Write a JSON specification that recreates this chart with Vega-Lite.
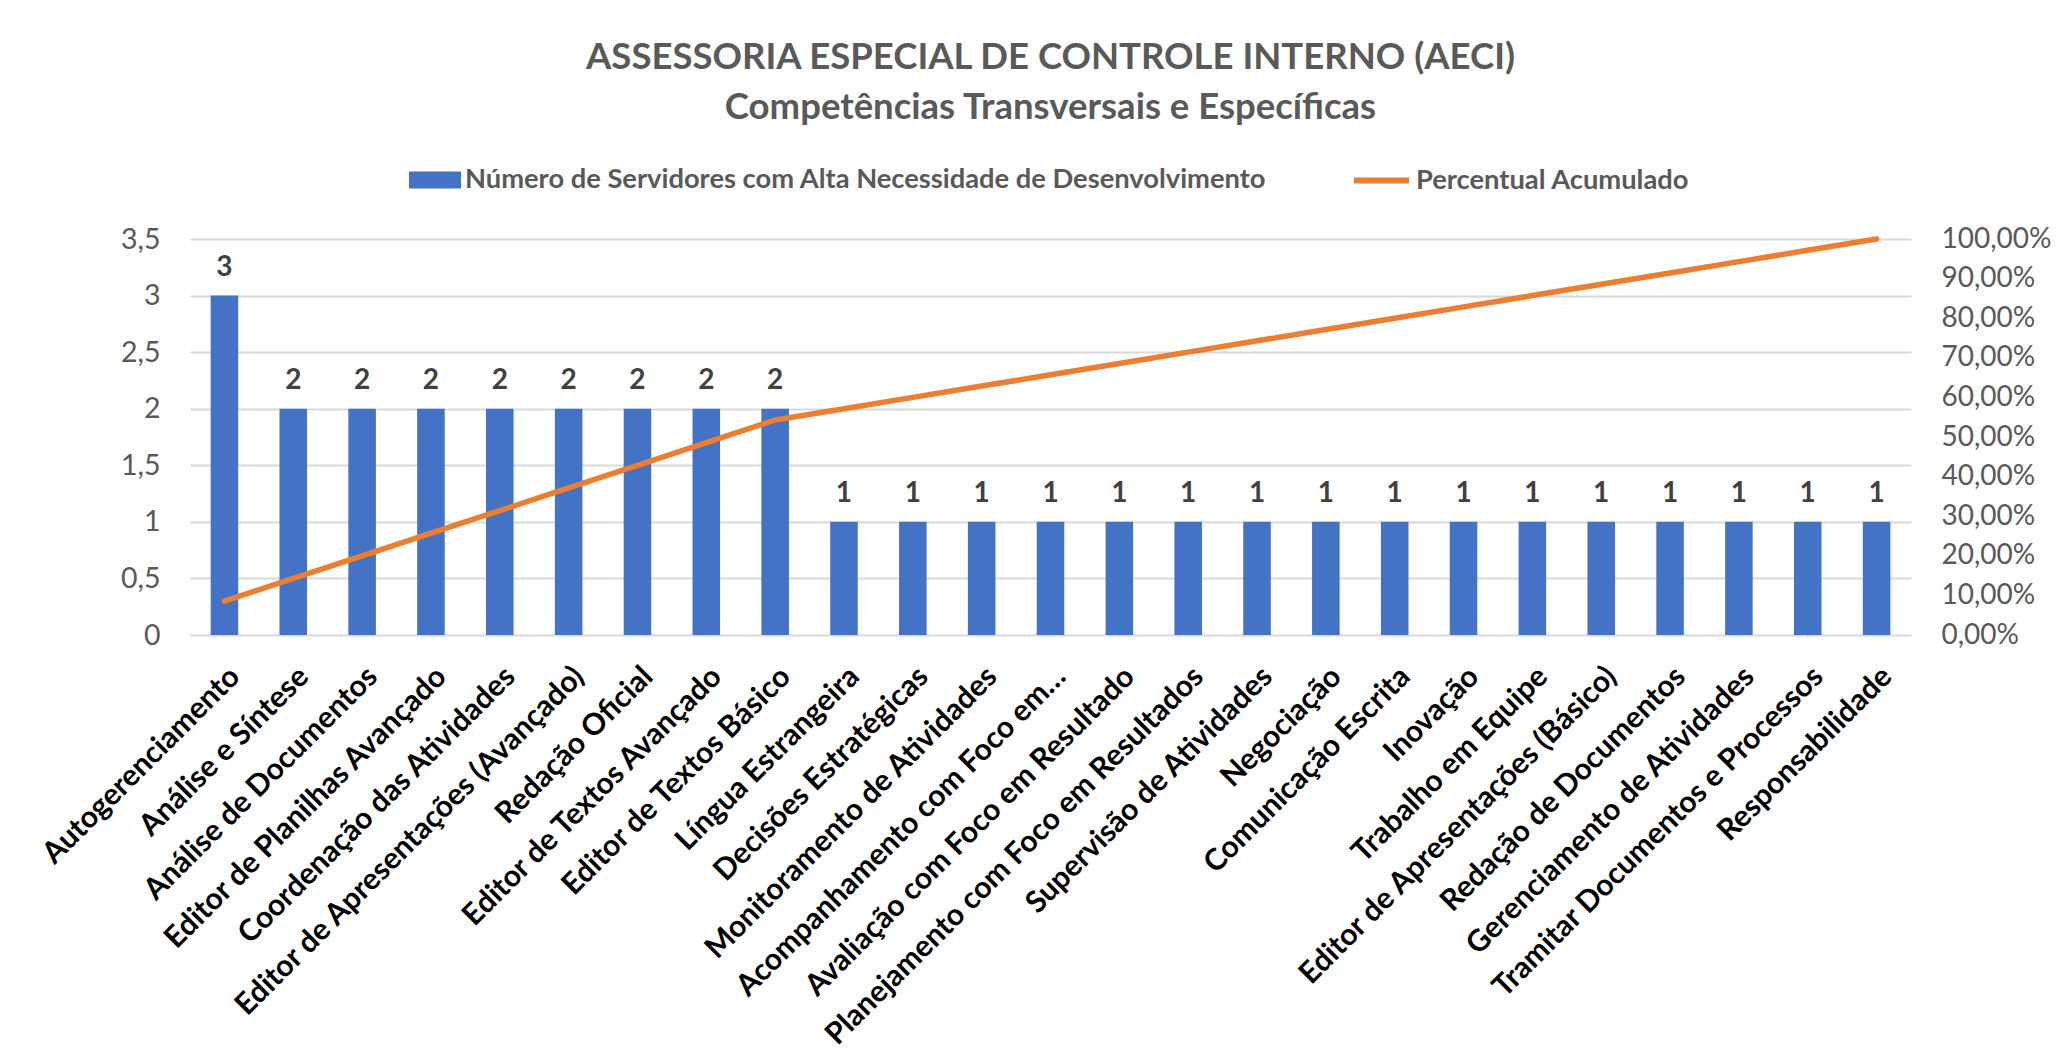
{
  "$schema": "https://vega.github.io/schema/vega-lite/v6.json",
  "autosize": {"type": "none"},
  "padding": {"left": 190, "top": 239, "right": 145, "bottom": 427},
  "width": 1721,
  "height": 396,
  "background": "white",
  "title": {
    "text": ["ASSESSORIA ESPECIAL DE CONTROLE INTERNO (AECI)", "Competências Transversais e Específicas"],
    "anchor": "middle",
    "fontSize": 36.5,
    "fontWeight": "bold",
    "color": "#595959",
    "lineHeight": 50,
    "offset": 24
  },
  "config": {
    "font": "Lato",
    "view": {"stroke": null},
    "locale": {"number": {"decimal": ",", "thousands": ".", "grouping": [3], "currency": ["R$", ""]}}
  },
  "data": {
    "values": [
      {"competencia": "Autogerenciamento", "n": 3, "acumulado": 0.0857},
      {"competencia": "Análise e Síntese", "n": 2, "acumulado": 0.1429},
      {"competencia": "Análise de Documentos", "n": 2, "acumulado": 0.2},
      {"competencia": "Editor de Planilhas Avançado", "n": 2, "acumulado": 0.2571},
      {"competencia": "Coordenação das Atividades", "n": 2, "acumulado": 0.3143},
      {"competencia": "Editor de Apresentações (Avançado)", "n": 2, "acumulado": 0.3714},
      {"competencia": "Redação Oficial", "n": 2, "acumulado": 0.4286},
      {"competencia": "Editor de Textos Avançado", "n": 2, "acumulado": 0.4857},
      {"competencia": "Editor de Textos Básico", "n": 2, "acumulado": 0.5429},
      {"competencia": "Língua Estrangeira", "n": 1, "acumulado": 0.5714},
      {"competencia": "Decisões Estratégicas", "n": 1, "acumulado": 0.6},
      {"competencia": "Monitoramento de Atividades", "n": 1, "acumulado": 0.6286},
      {"competencia": "Acompanhamento com Foco em…", "n": 1, "acumulado": 0.6571},
      {"competencia": "Avaliação com Foco em Resultado", "n": 1, "acumulado": 0.6857},
      {"competencia": "Planejamento com Foco em Resultados", "n": 1, "acumulado": 0.7143},
      {"competencia": "Supervisão de Atividades", "n": 1, "acumulado": 0.7429},
      {"competencia": "Negociação", "n": 1, "acumulado": 0.7714},
      {"competencia": "Comunicação Escrita", "n": 1, "acumulado": 0.8},
      {"competencia": "Inovação", "n": 1, "acumulado": 0.8286},
      {"competencia": "Trabalho em Equipe", "n": 1, "acumulado": 0.8571},
      {"competencia": "Editor de Apresentações (Básico)", "n": 1, "acumulado": 0.8857},
      {"competencia": "Redação de Documentos", "n": 1, "acumulado": 0.9143},
      {"competencia": "Gerenciamento de Atividades", "n": 1, "acumulado": 0.9429},
      {"competencia": "Tramitar Documentos e Processos", "n": 1, "acumulado": 0.9714},
      {"competencia": "Responsabilidade", "n": 1, "acumulado": 1.0}
    ]
  },
  "encoding": {
    "x": {
      "field": "competencia",
      "type": "nominal",
      "sort": null,
      "scale": {"paddingInner": 0.6, "paddingOuter": 0.3},
      "axis": {
        "title": null,
        "labelAngle": -45,
        "labelAlign": "right",
        "labelBaseline": "top",
        "labelFontSize": 30,
        "labelFontWeight": "bold",
        "labelColor": "#000000",
        "labelPadding": 26,
        "labelLimit": 800,
        "labelOverlap": false,
        "ticks": false,
        "domain": false,
        "grid": false
      }
    }
  },
  "layer": [
    {
      "layer": [
        {
          "mark": {"type": "bar", "color": "#4472C4"},
          "encoding": {
            "y": {
              "field": "n",
              "type": "quantitative",
              "scale": {"domain": [0, 3.5], "nice": false},
              "axis": {
                "title": null,
                "values": [0, 0.5, 1, 1.5, 2, 2.5, 3, 3.5],
                "format": "~g",
                "labelFontSize": 28.5,
                "labelColor": "#595959",
                "labelPadding": 30,
                "ticks": false,
                "domain": false,
                "grid": true,
                "gridColor": "#d9d9d9",
                "gridWidth": 2
              }
            },
            "fill": {
              "datum": "Número de Servidores com Alta Necessidade de Desenvolvimento",
              "type": "nominal",
              "scale": {"range": ["#4472C4"]},
              "legend": {
                "title": null,
                "orient": "none",
                "legendX": 219,
                "legendY": -85,
                "padding": 0,
                "symbolType": "M-1,-0.33H1V0.33H-1Z",
                "symbolSize": 2704,
                "symbolStrokeWidth": 0,
                "labelFontSize": 27.3,
                "labelFontWeight": "bold",
                "labelColor": "#595959",
                "labelOffset": 4,
                "labelLimit": 1000
              }
            }
          }
        },
        {
          "mark": {"type": "text", "dy": -20, "baseline": "alphabetic", "fontSize": 28, "fontWeight": "bold", "color": "#404040"},
          "encoding": {
            "y": {"field": "n", "type": "quantitative"},
            "text": {"field": "n", "type": "quantitative"}
          }
        }
      ]
    },
    {
      "mark": {"type": "line", "strokeWidth": 5.5, "strokeCap": "round", "strokeJoin": "round"},
      "encoding": {
        "y": {
          "field": "acumulado",
          "type": "quantitative",
          "scale": {"domain": [0, 1], "nice": false},
          "axis": {
            "orient": "right",
            "title": null,
            "values": [0, 0.1, 0.2, 0.3, 0.4, 0.5, 0.6, 0.7, 0.8, 0.9, 1],
            "format": ".2%",
            "labelFontSize": 28,
            "labelColor": "#595959",
            "labelPadding": 30,
            "ticks": false,
            "domain": false,
            "grid": false
          }
        },
        "stroke": {
          "datum": "Percentual Acumulado",
          "type": "nominal",
          "scale": {"range": ["#ED7D31"]},
          "legend": {
            "title": null,
            "orient": "none",
            "legendX": 1161,
            "legendY": -89,
            "padding": 0,
            "symbolType": "stroke",
            "symbolSize": 3025,
            "symbolStrokeWidth": 6,
            "labelFontSize": 27.3,
            "labelFontWeight": "bold",
            "labelColor": "#595959",
            "labelOffset": 4,
            "labelLimit": 1000
          }
        }
      }
    }
  ],
  "resolve": {"scale": {"y": "independent"}}
}
